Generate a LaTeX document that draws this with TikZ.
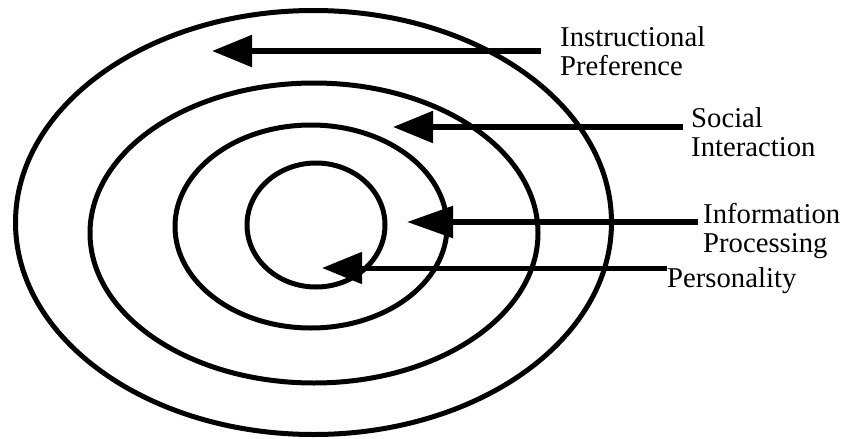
\documentclass[tikz,border=0pt]{standalone}
\usepackage{fontspec}
\setmainfont{Liberation Serif}
\usetikzlibrary{shapes.geometric,arrows.meta}
\begin{document}
\begin{tikzpicture}[x=1pt,y=-1pt,
  ring/.style={draw, ellipse, line width=5pt, inner sep=0pt},
  lbl/.style={font=\fontsize{28.7}{28.5}\selectfont, inner sep=0pt, align=left, anchor=base west},
  pointer/.style={line width=5.5pt, -{Triangle[length=40pt,width=31pt]}}]
\useasboundingbox (0,0) rectangle (846,439);
% rings
\node[ring, minimum width=596pt, minimum height=424pt] (outer) at (313.5,222.5) {};
\node[ring, minimum width=448pt, minimum height=300pt] (second) at (314,233) {};
\node[ring, minimum width=272pt, minimum height=203pt] (third) at (311,226.5) {};
\node[ring, minimum width=138pt, minimum height=124pt] (inner) at (316,225) {};
% labels (base anchor is the baseline of the last line)
\node[lbl] (instr) at (560,75) {Instructional\\Preference};
\node[lbl] (social) at (691,156) {Social\\Interaction};
\node[lbl] (info) at (703,252) {Information\\Processing};
\node[lbl] (pers) at (667,287) {Personality};
% connector ends
\coordinate (e1) at (541,51);  \coordinate (t1) at (212,51);
\coordinate (e2) at (683,127); \coordinate (t2) at (393,127);
\coordinate (e3) at (698,222); \coordinate (t3) at (407,222);
\coordinate (e4) at (667,268); \coordinate (t4) at (322,268);
\draw[pointer] (e1) -- (t1);
\draw[pointer] (e2) -- (t2);
\draw[pointer, -{Triangle[length=46pt,width=31pt]}] (e3) -- (t3);
\draw[pointer, line width=5pt] (e4) -- (t4);
\end{tikzpicture}
\end{document}
